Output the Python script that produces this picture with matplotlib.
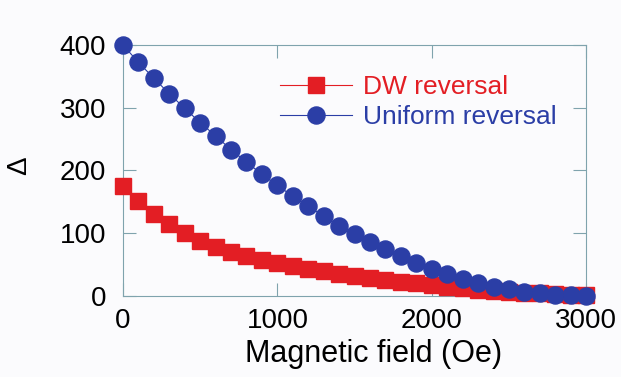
import numpy as np
import matplotlib
matplotlib.use("Agg")
import matplotlib.pyplot as plt

plt.rcParams['font.family'] = ['Liberation Sans', 'DejaVu Sans']

# Applied field (Oe)
field = np.arange(0, 3001, 100)

# Thermal stability factor for the two reversal modes
delta_dw = [175, 151, 130, 114, 100, 88, 78, 70, 63, 57,
            52, 47, 43, 39, 35.5, 32, 29, 26, 23, 20,
            17, 14, 12, 10, 8, 6.5, 5, 4, 3, 2, 1]
delta_uniform = [400, 372, 347, 322, 299, 276, 255, 233, 213, 194,
                 176, 159, 143, 127, 112, 99, 86, 74, 63, 53,
                 43, 35, 27, 21, 15, 11, 7, 4, 2, 1, 0]

labels = ["DW reversal", "Uniform reversal"]
x_ticks = [0, 1000, 2000, 3000]
y_ticks = [0, 100, 200, 300, 400]

red = '#e31e24'
blue = '#2b3ea6'
spine = '#7fa3ad'

fig = plt.figure(figsize=(6.21, 3.77), dpi=100, facecolor='#fbfbfd')
ax = fig.add_axes([0.198, 0.215, 0.746, 0.666])
ax.set_facecolor('#fbfbfd')

ax.plot(field, delta_dw, color=red, lw=0.8, marker='s', ms=12,
        mec=red, mfc=red, clip_on=False, zorder=3, label=labels[0])
ax.plot(field, delta_uniform, color=blue, lw=0.8, marker='o', ms=12.3,
        mec=blue, mfc=blue, clip_on=False, zorder=4, label=labels[1])

ax.set_xlim(0, 3000)
ax.set_ylim(0, 400)
ax.set_xticks(x_ticks)
ax.set_yticks(y_ticks)
ax.tick_params(direction='in', length=9.5, width=0.8, color=spine,
               labelsize=20, top=True, right=True)
ax.tick_params(axis='x', pad=8.5)
ax.tick_params(axis='y', pad=12)
for s in ax.spines.values():
    s.set_color(spine)
    s.set_linewidth(0.8)

ax.set_xlabel("Magnetic field (Oe)", fontsize=22)
ax.xaxis.set_label_coords(0.54, -0.17)
ax.set_ylabel("Δ", fontsize=20)
ax.yaxis.set_label_coords(-0.197, 0.52)

leg = ax.legend(loc='upper left', bbox_to_anchor=(0.339, 0.878), frameon=False,
                fontsize=19, handlelength=2.73, handletextpad=0.42,
                labelspacing=0.215, borderpad=0, borderaxespad=0)
for txt, c in zip(leg.get_texts(), [red, blue]):
    txt.set_color(c)

fig.savefig("out.png", dpi=100, facecolor=fig.get_facecolor())
